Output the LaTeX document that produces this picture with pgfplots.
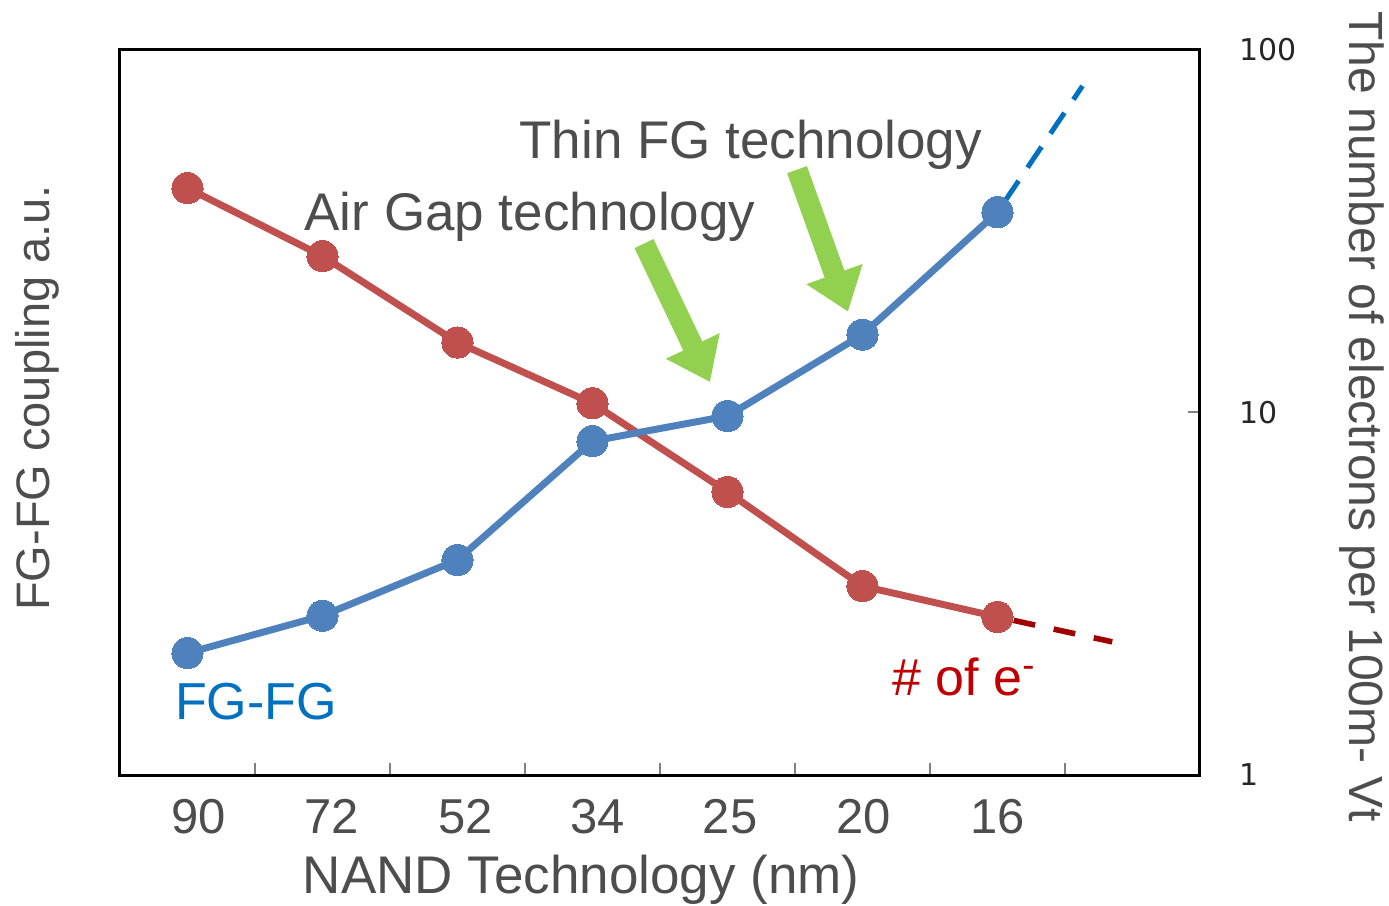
\documentclass[border=0pt]{standalone}
\usepackage{pgfplots}
\pgfplotsset{compat=1.18}
\usepackage{fontspec}
\setmainfont{Liberation Sans}
\newfontfamily\dejavu{DejaVu Sans}
\usetikzlibrary{arrows.meta}
\definecolor{redline}{RGB}{192,80,77}
\definecolor{blueline}{RGB}{79,129,189}
\definecolor{bluedash}{RGB}{0,112,192}
\definecolor{reddash}{RGB}{160,0,0}
\definecolor{redtext}{RGB}{192,0,0}
\definecolor{greenarrow}{RGB}{146,208,80}
\definecolor{textgray}{RGB}{77,77,77}
\begin{document}
\begin{tikzpicture}
\path[use as bounding box] (-60pt,-65.5pt) rectangle (634.5pt,387.5pt);
\begin{axis}[
  scale only axis, width=540pt, height=362.5pt,
  xmin=-0.5, xmax=7.5,
  ymode=log, ymin=1, ymax=100,
  clip=false,
  axis line style={black, line width=1.5pt},
  xtick pos=bottom, ytick pos=right,
  tick align=inside,
  major tick length=0pt,
  minor tick length=6pt,
  minor tick style={gray, line width=1pt},
  minor xtick={0.5,1.5,2.5,3.5,4.5,5.5,6.5},
  minor ytick={10},
  xtick={0.08,1.07,2.06,3.04,4.02,5.01,6},
  xticklabels={90,72,52,34,25,20,16},
  ytick={1,10,100},
  yticklabels={1,10,100},
  /pgf/number format/assume math mode=true,
  xticklabel style={font=\fontsize{24.5}{26}\selectfont, text=textgray, anchor=base, yshift=-29pt},
  yticklabel style={font=\dejavu\fontsize{15}{16}\selectfont, text=black!85, anchor=west, xshift=16pt},
]
% dashed extrapolations
\addplot[reddash, line width=2.8pt, dash pattern=on 11pt off 9.5pt, dash phase=12.25pt] coordinates {(6,2.73) (6.85,2.33)};
\addplot[bluedash, line width=2.5pt, dash pattern=on 12.5pt off 8pt, dash phase=14.1pt] coordinates {(6,35.7) (6.63,79.6)};
% main series
\addplot[redline, line width=3.5pt, mark=*, mark size=7.8pt, mark options={fill=redline, draw=redline, line width=0pt}]
  coordinates {(0,41.6) (1,27.0) (2,15.6) (3,10.6) (4,6.04) (5,3.32) (6,2.73)};
\addplot[blueline, line width=3.5pt, mark=*, mark size=7.8pt, mark options={fill=blueline, draw=blueline, line width=0pt}]
  coordinates {(0,2.17) (1,2.75) (2,3.92) (3,8.34) (4,9.78) (5,16.4) (6,35.7)};
% arrows
\draw[greenarrow, line width=10.5pt, -{Triangle[width=28.5pt,length=20pt]}]
  (rel axis cs:0.4852,0.733) -- (rel axis cs:0.5463,0.542);
\draw[greenarrow, line width=10.5pt, -{Triangle[width=28.5pt,length=20pt]}]
  (rel axis cs:0.6269,0.835) -- (rel axis cs:0.6741,0.639);
% annotations
\node[anchor=base, text=textgray, font=\fontsize{26.5}{30}\selectfont] at (rel axis cs:0.584,0.851) {Thin FG technology};
\node[anchor=base, text=textgray, font=\fontsize{26.5}{30}\selectfont] at (rel axis cs:0.3796,0.7517) {Air Gap technology};
\node[anchor=base, text=bluedash, font=\fontsize{26}{30}\selectfont] at (rel axis cs:0.126,0.0759) {FG-FG};
\node[anchor=base, text=redtext, font=\fontsize{26}{30}\selectfont] at (rel axis cs:0.7815,0.110) {\# of e\textsuperscript{-}};
% axis labels
\node[anchor=base, text=textgray, font=\fontsize{26.5}{30}\selectfont] at (rel axis cs:0.427,-0.163) {NAND Technology (nm)};
\node[anchor=base, rotate=90, text=textgray, font=\fontsize{23.5}{26}\selectfont] at (rel axis cs:-0.0657,0.52) {FG-FG coupling a.u.};
\node[anchor=base, rotate=-90, text=textgray, font=\fontsize{24}{26}\selectfont] at (rel axis cs:1.138,0.494) {The number of electrons per 100m- Vt};
\end{axis}
\end{tikzpicture}
\end{document}
